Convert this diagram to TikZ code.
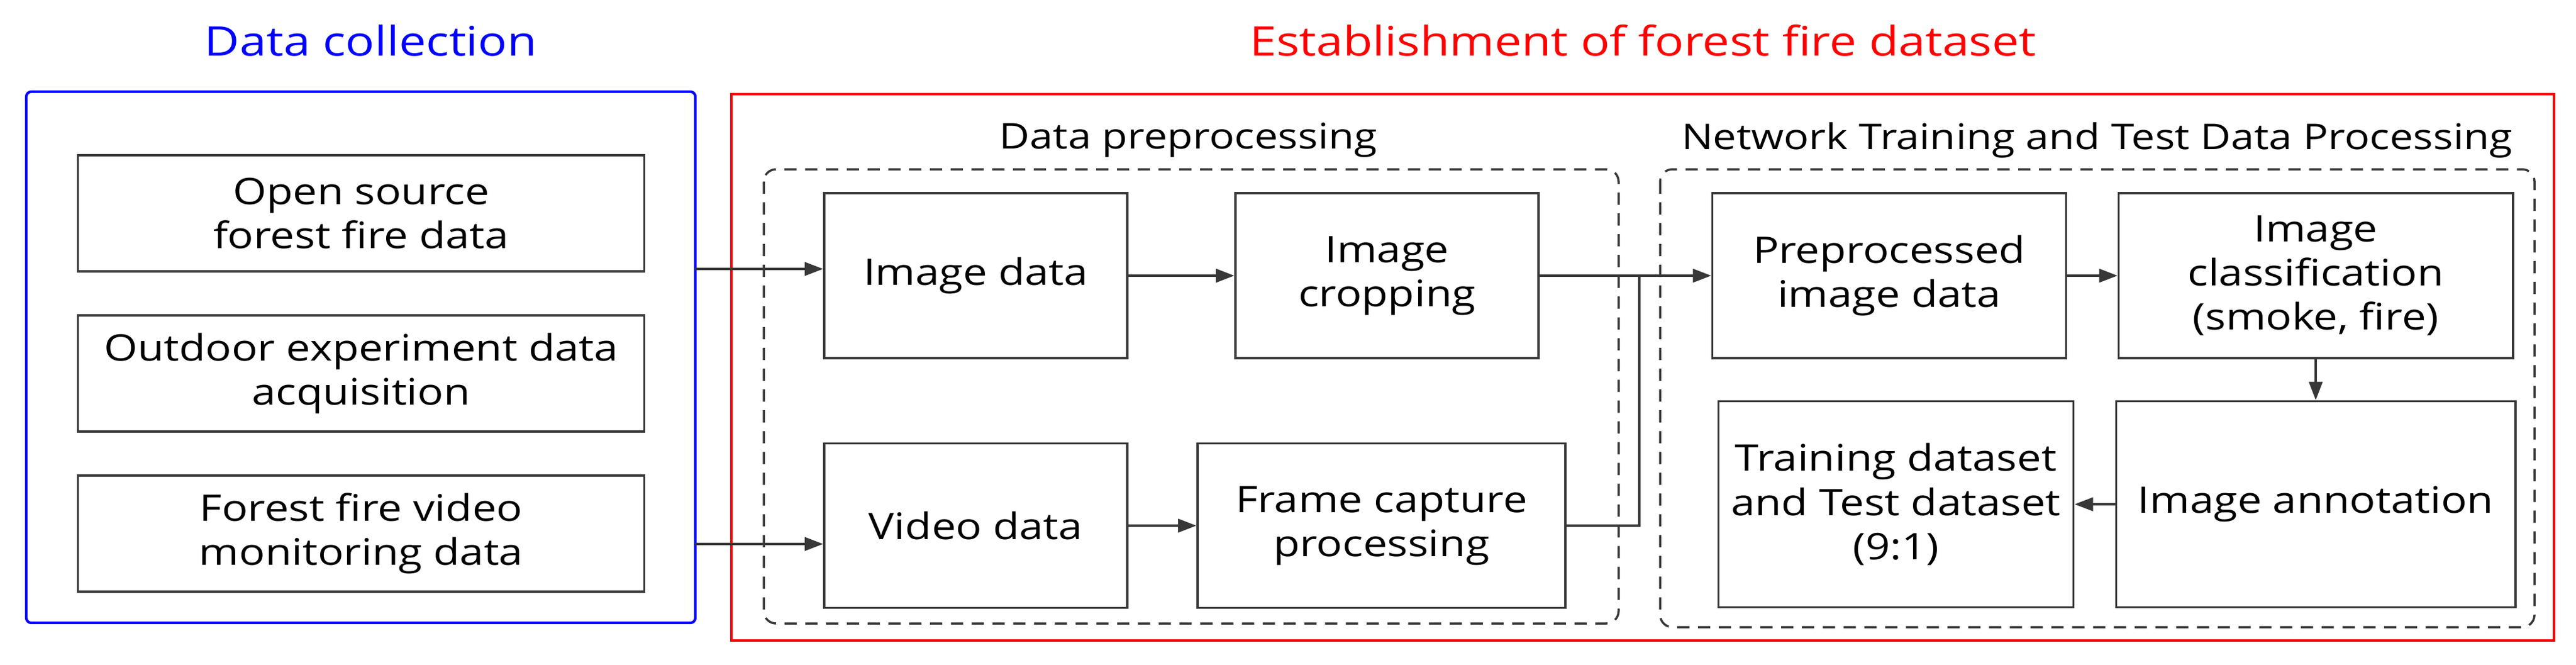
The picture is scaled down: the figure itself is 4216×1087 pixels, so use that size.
\documentclass[tikz,border=0pt]{standalone}
\usepackage{fontspec}
\setmainfont[FakeStretch=1.18]{Open Sans}
\usetikzlibrary{arrows.meta}
\definecolor{ln}{HTML}{383838}
\begin{document}
\begin{tikzpicture}[x=0.01cm,y=-0.01cm,
  box/.style={draw=ln,line width=1pt,align=center,inner sep=0pt,font=\fontsize{17}{20.5}\selectfont},
  dbox/.style={draw=ln,line width=1pt,dash pattern=on 0.2cm off 0.14cm,rounded corners=0.2cm},
  arr/.style={draw=ln,line width=1pt,-{Triangle[length=0.3cm,width=0.22cm]}},
  lab/.style={font=\fontsize{16.5}{20}\selectfont,inner sep=0pt},
  ttl/.style={font=\fontsize{19}{23}\selectfont,inner sep=0pt}]
\useasboundingbox (0,0) rectangle (4216,1087);
% outer boxes
\draw[blue,line width=1.2pt,rounded corners=0.08cm] (43,150) rectangle (1138,1019);
\draw[red,line width=1.2pt] (1197,154) rectangle (4180,1048);
\node[blue,ttl] (t1) at (607,66) {Data collection};
\node[red,ttl] (t2) at (2689,66) {Establishment of forest fire dataset};
% dashed groups
\draw[dbox] (1250,277) rectangle (2649,1020);
\draw[dbox] (2717,277) rectangle (4148,1026);
\node[lab] (l1) at (1945,229) {Data preprocessing};
\node[lab] (l2) at (3432,229) {Network Training and Test Data Processing};
% left boxes
\node[box,minimum width=9.26cm,minimum height=1.9cm] (b1) at (591,349) {Open source\\forest fire data};
\node[box,minimum width=9.26cm,minimum height=1.9cm] (b2) at (591,611) {Outdoor experiment data\\acquisition};
\node[box,minimum width=9.26cm,minimum height=1.9cm] (b3) at (591,873) {Forest fire video\\monitoring data};
% preprocessing
\node[box,minimum width=4.96cm,minimum height=2.7cm] (img) at (1597,451) {Image data};
\node[box,minimum width=4.96cm,minimum height=2.7cm] (crop) at (2270,451) {Image\\cropping};
\node[box,minimum width=4.96cm,minimum height=2.69cm] (vid) at (1597,860) {Video data};
\node[box,minimum width=6.02cm,minimum height=2.69cm] (frm) at (2261,860) {Frame capture\\processing};
% network
\node[box,minimum width=5.79cm,minimum height=2.7cm] (pre) at (3092,451) {Preprocessed\\image data};
\node[box,minimum width=6.45cm,minimum height=2.7cm] (cls) at (3790,451) {Image\\classification\\(smoke, fire)};
\node[box,minimum width=6.53cm,minimum height=3.37cm] (ann) at (3790,825) {Image annotation};
\node[box,minimum width=5.81cm,minimum height=3.37cm] (trn) at (3103,825) {Training dataset\\and Test dataset\\(9:1)};
% connectors
\coordinate (s1) at (1138,440);
\coordinate (s2) at (1138,890);
\coordinate (j) at (2683,860);
\draw[arr] (s1) -- (s1 -| img.west);
\draw[arr] (s2) -- (s2 -| vid.west);
\draw[arr] (img) -- (crop);
\draw[arr] (vid) -- (frm);
\draw[arr] (crop) -- (pre);
\draw[draw=ln,line width=1pt] (frm.east) -- (j) -- (j |- crop.east);
\draw[arr] (pre) -- (cls);
\draw[arr] (cls) -- (ann);
\draw[arr] (ann) -- (trn);
\end{tikzpicture}
\end{document}
